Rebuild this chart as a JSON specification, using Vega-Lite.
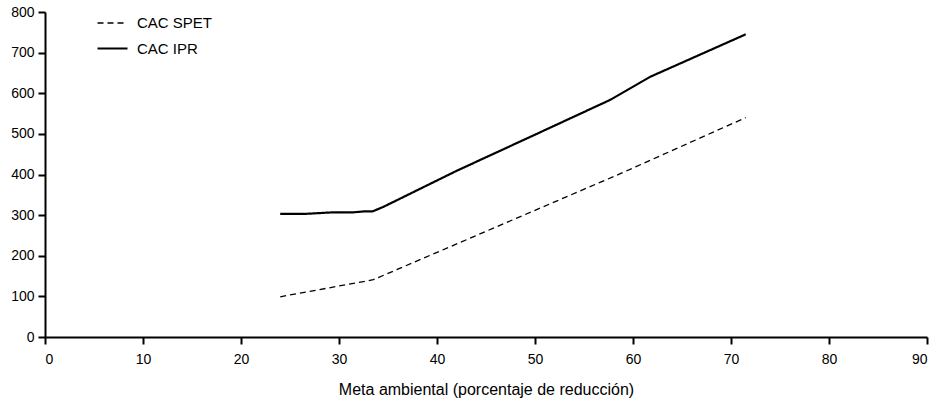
{
  "$schema": "https://vega.github.io/schema/vega-lite/v6.json",
  "width": 882,
  "height": 325,
  "autosize": {"type": "none"},
  "padding": {"left": 45, "top": 12, "right": 12, "bottom": 63},
  "background": "white",
  "config": {
    "view": {"stroke": null},
    "font": "Liberation Sans",
    "axis": {
      "grid": false,
      "domainColor": "black",
      "domainWidth": 2,
      "tickColor": "black",
      "tickWidth": 2,
      "tickSize": 7,
      "labelColor": "black",
      "labelFont": "Liberation Sans",
      "labelFontSize": 14,
      "titleColor": "black",
      "titleFont": "Liberation Sans",
      "titleFontWeight": "normal"
    }
  },
  "data": {
    "values": [
      {"x": 24.0, "y": 99, "serie": "CAC SPET"},
      {"x": 33.5, "y": 141, "serie": "CAC SPET"},
      {"x": 58.7, "y": 402, "serie": "CAC SPET"},
      {"x": 71.5, "y": 540, "serie": "CAC SPET"},
      {"x": 24.0, "y": 303, "serie": "CAC IPR"},
      {"x": 26.5, "y": 303, "serie": "CAC IPR"},
      {"x": 29.5, "y": 307, "serie": "CAC IPR"},
      {"x": 31.5, "y": 307, "serie": "CAC IPR"},
      {"x": 32.5, "y": 309, "serie": "CAC IPR"},
      {"x": 33.4, "y": 309, "serie": "CAC IPR"},
      {"x": 34.5, "y": 320, "serie": "CAC IPR"},
      {"x": 42.0, "y": 409, "serie": "CAC IPR"},
      {"x": 50.0, "y": 498, "serie": "CAC IPR"},
      {"x": 57.7, "y": 584, "serie": "CAC IPR"},
      {"x": 61.8, "y": 641, "serie": "CAC IPR"},
      {"x": 71.5, "y": 745, "serie": "CAC IPR"}
    ]
  },
  "mark": {"type": "line", "color": "black"},
  "encoding": {
    "x": {
      "field": "x",
      "type": "quantitative",
      "scale": {"domain": [0, 90], "nice": false},
      "axis": {
        "values": [0, 10, 20, 30, 40, 50, 60, 70, 80, 90],
        "title": "Meta ambiental (porcentaje de reducción)",
        "titleFontSize": 16,
        "labelPadding": 8,
        "titlePadding": 15
      }
    },
    "y": {
      "field": "y",
      "type": "quantitative",
      "scale": {"domain": [0, 800], "nice": false},
      "axis": {
        "values": [0, 100, 200, 300, 400, 500, 600, 700, 800],
        "title": null,
        "labelPadding": 4
      }
    },
    "strokeDash": {
      "field": "serie",
      "type": "nominal",
      "scale": {"domain": ["CAC SPET", "CAC IPR"], "range": [[6, 4], [1, 0]]},
      "legend": {
        "title": null,
        "orient": "none",
        "legendX": 51,
        "legendY": -5,
        "symbolType": "stroke",
        "symbolSize": 900,
        "symbolStrokeColor": "black",
        "labelFontSize": 15,
        "labelFont": "Liberation Sans",
        "labelColor": "black",
        "labelOffset": 8,
        "rowPadding": 1,
        "padding": 0
      }
    },
    "strokeWidth": {
      "field": "serie",
      "type": "nominal",
      "scale": {"domain": ["CAC SPET", "CAC IPR"], "range": [1.3, 2.2]},
      "legend": null
    }
  }
}
